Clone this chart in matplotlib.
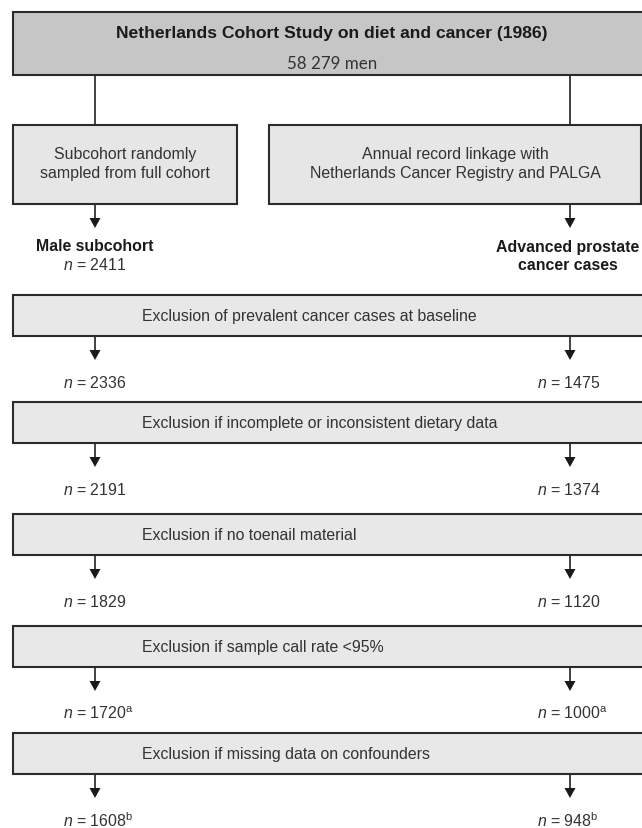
import matplotlib.pyplot as plt
from matplotlib.patches import Rectangle

plt.rcParams['font.family'] = ['Liberation Sans', 'DejaVu Sans']
plt.rcParams['mathtext.fontset'] = 'custom'
plt.rcParams['mathtext.rm'] = 'Liberation Sans'
plt.rcParams['mathtext.it'] = 'Liberation Sans:italic'

# data
cohort_title = "Netherlands Cohort Study on diet and cancer (1986)"
cohort_n = "58 279 men"
left_source = ["Subcohort randomly", "sampled from full cohort"]
right_source = ["Annual record linkage with", "Netherlands Cancer Registry and PALGA"]
left_group = "Male subcohort"
left_group_n = "2411"
right_group = ["Advanced prostate", "cancer cases"]
exclusions = [
    "Exclusion of prevalent cancer cases at baseline",
    "Exclusion if incomplete or inconsistent dietary data",
    "Exclusion if no toenail material",
    "Exclusion if sample call rate <95%",
    "Exclusion if missing data on confounders",
]
subcohort_n = ["2336", "2191", "1829", "1720", "1608"]
cases_n = ["1475", "1374", "1120", "1000", "948"]
footnotes = ["", "", "", "a", "b"]

dark = "#2b2b2b"
line_c = "#333333"
fs = 11.4

fig = plt.figure(figsize=(6.42, 8.29), dpi=100)
ax = fig.add_axes([0, 0, 1, 1])
ax.set_xlim(0, 642)
ax.set_ylim(829, 0)
ax.axis('off')

def box(x0, y0, x1, y1, fc):
    ax.add_patch(Rectangle((x0, y0), x1 - x0, y1 - y0, facecolor=fc,
                           edgecolor=dark, lw=1.5, zorder=2))

def arrow(x, y0, y1):
    ax.plot([x, x], [y0, y1 - 8], color=line_c, lw=1.3, zorder=1)
    ax.fill([x - 5.5, x + 5.5, x], [y1 - 10, y1 - 10, y1], color="#1a1a1a", lw=0, zorder=3)

xl, xr = 95, 570

# top box
box(13, 13, 651, 76, "#c6c6c6")
ax.text(332, 33, cohort_title, ha='center', va='center', fontsize=12.6,
        fontweight='bold', color="#1a1a1a", zorder=4)
ax.text(332, 64, cohort_n, ha='center', va='center', fontsize=12.2,
        family=['Lato', 'DejaVu Sans'], color="#333333", zorder=4)

for x in (xl, xr):
    ax.plot([x, x], [76, 126], color=line_c, lw=1.3, zorder=1)

# source boxes
box(13, 126, 237, 205, "#e6e6e6")
box(269, 126, 641, 205, "#e6e6e6")
ax.text(125, 164, "\n".join(left_source), ha='center', va='center', fontsize=fs,
        color="#333333", linespacing=1.3, zorder=4)
ax.text(455, 164, "\n".join(right_source), ha='center', va='center', fontsize=fs,
        color="#333333", linespacing=1.3, zorder=4)

arrow(xl, 205, 229)
arrow(xr, 205, 229)
ax.text(xl, 246, left_group, ha='center', va='center', fontsize=fs,
        fontweight='bold', color="#1a1a1a")
ax.text(63, 265, r"$n$ = " + left_group_n, ha='left', va='center', fontsize=fs,
        color="#333333")
ax.text(568, 256, "\n".join(right_group), ha='center', va='center', fontsize=fs,
        fontweight='bold', color="#1a1a1a", linespacing=1.25)

# exclusion steps
tops = [296, 403, 515, 627, 734]
for i, txt in enumerate(exclusions):
    t = tops[i]
    b = t + 41
    box(13, t, 660, b, "#e8e8e8")
    ax.text(142, t + 20.5, txt, ha='left', va='center', fontsize=fs,
            color="#333333", zorder=4)
    arrow(xl, b, b + 24)
    arrow(xr, b, b + 24)
    sup = r"$^{\mathrm{%s}}$" % footnotes[i] if footnotes[i] else ""
    ax.text(63, b + 46, r"$n$ = " + subcohort_n[i] + sup, ha='left', va='center',
            fontsize=fs, color="#333333")
    ax.text(537, b + 46, r"$n$ = " + cases_n[i] + sup, ha='left', va='center',
            fontsize=fs, color="#333333")

fig.savefig("out.png", dpi=100)
